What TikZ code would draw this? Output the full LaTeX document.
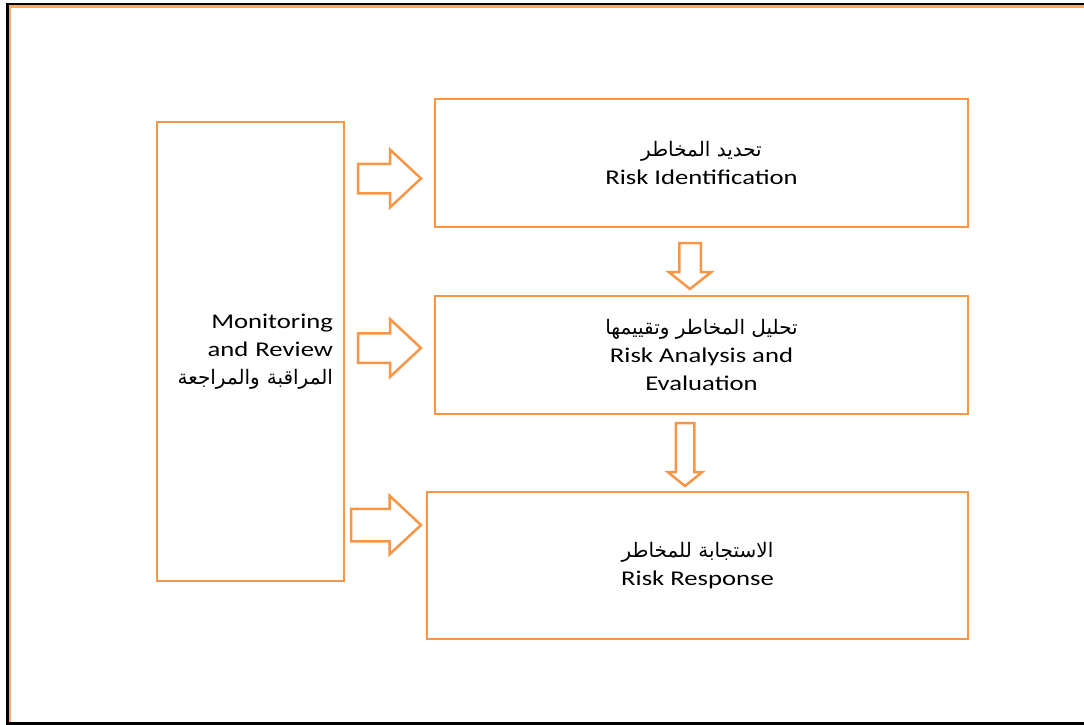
\documentclass[tikz,border=0pt]{standalone}
\usepackage{fontspec}
\setmainfont[FakeStretch=1.27]{Carlito}
\newfontfamily\arabicfont[Script=Arabic]{DejaVu Sans}
\TeXXeTstate=1
\usetikzlibrary{shapes.arrows, positioning}
\definecolor{riskorange}{HTML}{F79646}

\newcommand{\artext}[1]{{\arabicfont\fontsize{20}{24}\selectfont\beginR #1\endR}}

\tikzset{
    stagebox/.style={draw=riskorange, line width=2.5pt, inner sep=0pt, outer sep=0pt,
        align=center, font=\fontsize{21}{28}\selectfont},
    blockarrow/.style={single arrow, draw=riskorange, line width=2.5pt,
        outer sep=0pt, anchor=tail, single arrow tip angle=86},
}

\begin{document}
\begin{tikzpicture}[x=1pt, y=-1pt]
    \useasboundingbox (0,0) rectangle (1084,725);

    % Khung ngoài
    \draw[line width=2.7pt] (1090,4.7) -- (7.2,4.7) -- (7.2,723.4) -- (1090,723.4);
    \draw[riskorange!80, line width=2.2pt] (1090,6.6) -- (9.7,6.6) -- (9.7,722);

    % Các khối
    \node[stagebox, minimum width=187pt, minimum height=459pt, text width=165pt, align=right]
        (monitor) at (250.5,351.5) {Monitoring\\ and Review\\ \artext{المراقبة والمراجعة}};
    \node[stagebox, minimum width=533pt, minimum height=128pt]
        (ident) at (701.5,163) {\artext{تحديد المخاطر}\\ Risk Identification};
    \node[stagebox, minimum width=533pt, minimum height=118pt]
        (analysis) at (701.5,355) {\artext{تحليل المخاطر وتقييمها}\\ Risk Analysis and\\ Evaluation};
    \node[stagebox, minimum width=541pt, minimum height=147pt]
        (response) at (697.5,565.5) {\artext{الاستجابة للمخاطر}\\ Risk Response};

    % Mũi tên khối
    \node[blockarrow, inner sep=13.5pt, minimum height=63pt, single arrow head extend=14pt]
        (toident) at (358,178.5) {};
    \node[blockarrow, inner sep=13.5pt, minimum height=63pt, single arrow head extend=14pt]
        (toanalysis) at (358,348) {};
    \node[blockarrow, inner sep=15pt, minimum height=70pt, single arrow head extend=13pt]
        (toresponse) at (351,525) {};
    \node[blockarrow, rotate=-90, inner sep=9.5pt, minimum height=46pt,
        single arrow head extend=10.5pt, single arrow tip angle=103]
        (identdown) at (690,243) {};
    \node[blockarrow, rotate=-90, inner sep=8pt, minimum height=63pt,
        single arrow head extend=8pt, single arrow tip angle=102]
        (analysisdown) at (685,423) {};
\end{tikzpicture}
\end{document}
